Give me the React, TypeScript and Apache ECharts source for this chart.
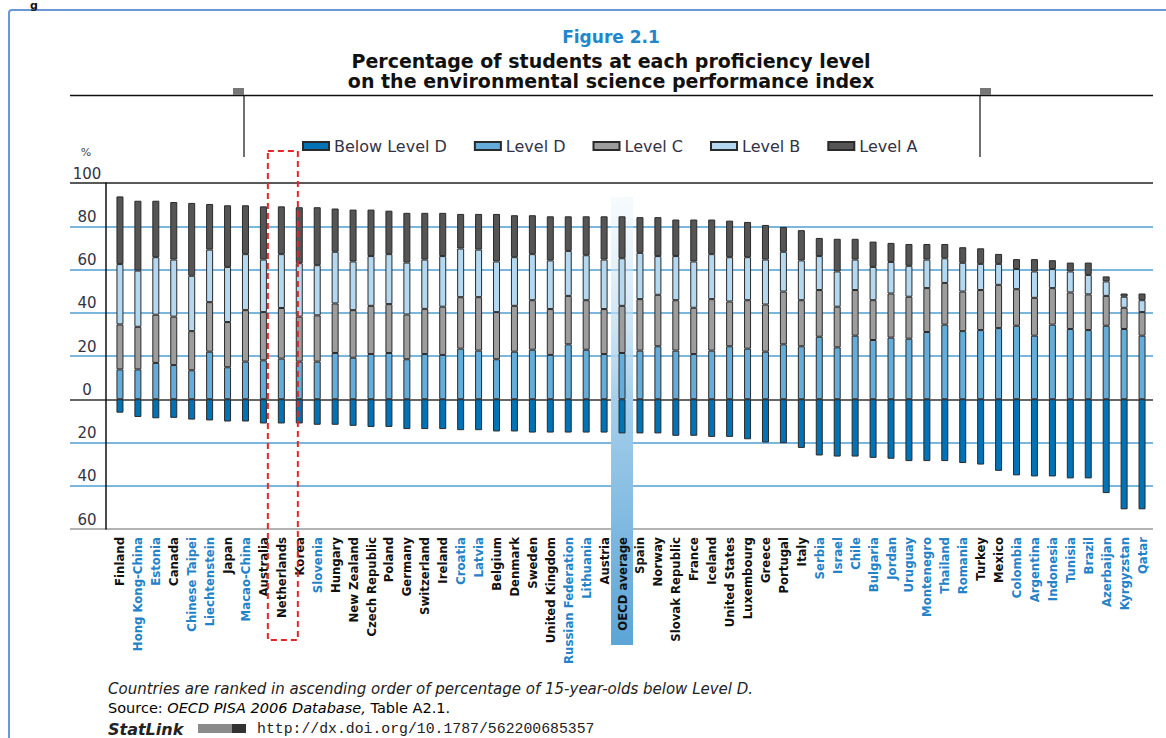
import React, { useEffect, useRef } from "react";
import * as echarts from "echarts";

const countries = [
  "Finland", "Hong Kong-China", "Estonia", "Canada", "Chinese Taipei", "Liechtenstein", "Japan", "Macao-China",
  "Australia", "Netherlands", "Korea", "Slovenia", "Hungary", "New Zealand", "Czech Republic", "Poland",
  "Germany", "Switzerland", "Ireland", "Croatia", "Latvia", "Belgium", "Denmark", "Sweden",
  "United Kingdom", "Russian Federation", "Lithuania", "Austria", "OECD average", "Spain", "Norway", "Slovak Republic",
  "France", "Iceland", "United States", "Luxembourg", "Greece", "Portugal", "Italy", "Serbia",
  "Israel", "Chile", "Bulgaria", "Jordan", "Uruguay", "Montenegro", "Thailand", "Romania",
  "Turkey", "Mexico", "Colombia", "Argentina", "Indonesia", "Tunisia", "Brazil", "Azerbaijan",
  "Kyrgyzstan", "Qatar",
];

const partnerCountries = [
  "Hong Kong-China", "Estonia", "Chinese Taipei", "Liechtenstein", "Macao-China", "Slovenia", "Croatia", "Latvia",
  "Russian Federation", "Lithuania", "Serbia", "Israel", "Chile", "Bulgaria", "Jordan", "Uruguay", "Montenegro",
  "Thailand", "Romania", "Colombia", "Argentina", "Indonesia", "Tunisia", "Brazil", "Azerbaijan", "Kyrgyzstan", "Qatar",
];

const belowLevelD = [
  -6.2, -8.2, -8.8, -8.6, -9.4, -9.8, -10.3, -10.3,
  -11.2, -11.2, -11.2, -11.8, -11.8, -12.3, -12.8, -12.8,
  -13.8, -13.8, -13.8, -14.3, -14.3, -14.9, -14.9, -15.4,
  -15.4, -15.4, -15.4, -15.4, -15.8, -15.8, -15.8, -16.9,
  -16.9, -17.4, -17.4, -18.5, -20.0, -20.3, -22.5, -26.0,
  -26.5, -26.5, -27.1, -27.5, -28.6, -28.6, -28.6, -29.5,
  -30.2, -33.1, -35.2, -35.7, -35.7, -36.6, -36.6, -43.4,
  -50.9, -50.9,
];

const levelD = [
  13.8, 13.8, 16.8, 15.8, 13.4, 22.0, 14.8, 17.4,
  18.0, 18.8, 17.4, 17.4, 21.4, 19.2, 20.9, 21.4,
  18.5, 20.9, 20.5, 23.4, 22.5, 18.5, 22.0, 22.9,
  20.5, 25.4, 22.9, 20.9, 21.4, 22.5, 24.5, 22.5,
  20.9, 22.5, 24.5, 23.4, 22.0, 25.4, 24.5, 28.9,
  24.0, 29.4, 27.4, 28.5, 28.0, 31.1, 34.5, 31.5,
  32.0, 32.9, 34.0, 29.4, 34.5, 32.5, 32.0, 34.0,
  32.5, 29.4,
];

const levelC = [
  20.8, 19.7, 22.3, 22.4, 18.1, 22.9, 20.9, 23.8,
  22.3, 23.4, 20.8, 21.4, 22.9, 22.0, 22.3, 22.6,
  20.7, 20.9, 22.3, 23.8, 24.7, 21.8, 21.2, 22.9,
  21.2, 22.4, 22.9, 20.8, 21.8, 23.8, 23.8, 23.3,
  21.4, 23.8, 20.7, 22.4, 21.8, 24.4, 21.3, 21.6,
  18.8, 21.1, 18.4, 20.4, 19.4, 20.3, 19.3, 18.3,
  18.5, 20.0, 16.9, 17.5, 16.9, 16.9, 16.5, 13.8,
  9.8, 10.9,
];

const levelB = [
  27.9, 26.0, 26.6, 26.4, 25.6, 24.3, 25.5, 25.9,
  24.3, 24.9, 24.7, 23.2, 23.9, 22.5, 23.0, 23.1,
  24.0, 22.8, 23.4, 22.5, 22.0, 23.4, 22.5, 21.3,
  22.5, 20.8, 20.8, 22.9, 22.0, 21.4, 17.9, 20.4,
  21.4, 20.8, 20.5, 19.9, 20.8, 18.4, 18.4, 15.7,
  16.3, 14.1, 15.4, 14.6, 14.3, 13.2, 11.4, 13.3,
  12.1, 9.7, 9.3, 12.2, 8.8, 9.7, 9.0, 6.7,
  5.1, 5.5,
];

const levelA = [
  31.3, 32.3, 26.1, 26.6, 33.7, 21.1, 28.5, 22.6,
  24.6, 22.1, 25.9, 26.8, 20.0, 24.0, 21.5, 20.1,
  23.0, 21.6, 20.0, 16.0, 16.5, 22.0, 19.4, 18.0,
  20.4, 16.0, 18.0, 20.0, 19.4, 16.5, 18.0, 16.9,
  19.4, 16.0, 16.9, 16.3, 16.0, 11.5, 14.0, 8.4,
  15.1, 9.6, 11.7, 8.8, 10.1, 7.2, 6.6, 7.2,
  7.2, 4.6, 4.6, 5.7, 4.1, 4.1, 5.7, 2.3,
  1.5, 3.1,
];

const seriesNames = ["Below Level D", "Level D", "Level C", "Level B", "Level A"];
const seriesColors = ["#0072b6", "#64acd9", "#9d9d9d", "#b4d8ef", "#555555"];
const yTicks = [-60, -40, -20, 0, 20, 40, 60, 80, 100];

const highlightCategory = "OECD average";
const boxedCategory = "Netherlands";

const App: React.FC = () => {
  const ref = useRef<HTMLDivElement>(null);

  useEffect(() => {
    if (!ref.current) return;
    const chart = echarts.init(ref.current, null, { renderer: "svg" });
    const values = [belowLevelD, levelD, levelC, levelB, levelA];
    const gridLineColors = yTicks.map((t) =>
      t === 100 ? "#222222" : t === 0 ? "#333333" : t === -60 ? "#9a9a9a" : "#4f9fd2"
    );

    const option: any = {
      animation: false,
      backgroundColor: "#ffffff",
      grid: [
        { left: 70, right: 13, top: 183, bottom: 209 },
        { left: 111, right: 15, top: 183, bottom: 209 },
      ],
      legend: {
        data: seriesNames,
        left: 297,
        top: 133,
        itemWidth: 26,
        itemHeight: 8,
        itemGap: 27,
        icon: "rect",
        textStyle: { fontSize: 16, fontFamily: "DejaVu Sans", color: "#333344" },
      },
      xAxis: [
        {
          type: "category",
          gridIndex: 1,
          data: countries,
          axisLine: { show: false },
          axisTick: { show: false },
          splitLine: { show: false },
          axisLabel: {
            interval: 0,
            rotate: 90,
            margin: 8,
            fontSize: 13,
            fontWeight: "bold",
            fontFamily: "'Liberation Sans Narrow', 'DejaVu Sans Condensed', sans-serif",
            color: (v: string) => (partnerCountries.includes(v) ? "#2383c8" : "#111111"),
          },
        },
        { type: "value", gridIndex: 0, show: false, min: 0, max: 1 },
      ],
      yAxis: [
        {
          type: "value",
          gridIndex: 0,
          min: -60,
          max: 100,
          interval: 20,
          axisLine: { show: false },
          axisTick: { show: false },
          splitLine: { show: true, lineStyle: { color: gridLineColors, width: 1.5 } },
          axisLabel: {
            inside: true,
            margin: 17,
            align: "center",
            verticalAlign: "bottom",
            padding: [0, 0, 2, 0],
            fontSize: 15,
            fontFamily: "DejaVu Sans",
            color: "#333344",
            formatter: (v: number) => String(Math.abs(v)),
          },
        },
        {
          type: "value",
          gridIndex: 1,
          min: -60,
          max: 100,
          interval: 20,
          offset: 5,
          axisLine: { show: true, lineStyle: { color: "#111111", width: 1.5 } },
          axisTick: { show: false },
          axisLabel: { show: false },
          splitLine: { show: false },
        },
      ],
      series: seriesNames.map((name, i) => ({
        name,
        type: "bar",
        stack: "total",
        xAxisIndex: 0,
        yAxisIndex: 1,
        barWidth: 7,
        itemStyle: { color: seriesColors[i], borderColor: "#2a2a2a", borderWidth: 1 },
        data: values[i],
      })),
    };
    chart.setOption(option);

    const xO = chart.convertToPixel({ xAxisIndex: 0 }, highlightCategory) as number;
    const xN = chart.convertToPixel({ xAxisIndex: 0 }, boxedCategory) as number;

    const elements: any[] = [
      {
        type: "rect",
        z: 0,
        shape: { x: xO - 11, y: 197, width: 22, height: 448 },
        style: {
          fill: new echarts.graphic.LinearGradient(0, 0, 0, 1, [
            { offset: 0, color: "rgba(226,240,250,0.3)" },
            { offset: 0.45, color: "#a6cfeb" },
            { offset: 1, color: "#5ca5d6" },
          ]),
        },
      },
      {
        type: "rect",
        z: 10,
        shape: { x: xN - 13.5, y: 151, width: 30, height: 489 },
        style: { fill: "none", stroke: "#e52626", lineWidth: 2, lineDash: [6, 4] },
      },
      {
        type: "rect",
        z: 5,
        shape: { x: 9, y: 10, width: 1220, height: 800, r: 3 },
        style: { fill: "none", stroke: "#6b97d6", lineWidth: 2 },
      },
      {
        type: "text",
        z: 5,
        x: 30,
        y: 0,
        style: { text: "g", font: "bold 11px 'DejaVu Sans'", fill: "#111", textVerticalAlign: "top" },
      },
      {
        type: "text",
        z: 5,
        x: 611,
        y: 37,
        style: {
          text: "Figure 2.1",
          font: "bold 17px 'DejaVu Sans'",
          fill: "#2286cc",
          textAlign: "center",
          textVerticalAlign: "middle",
        },
      },
      {
        type: "text",
        z: 5,
        x: 611,
        y: 60.5,
        style: {
          text: "Percentage of students at each proficiency level",
          font: "bold 19px 'DejaVu Sans'",
          fill: "#111",
          textAlign: "center",
          textVerticalAlign: "middle",
        },
      },
      {
        type: "text",
        z: 5,
        x: 611,
        y: 80.5,
        style: {
          text: "on the environmental science performance index",
          font: "bold 19px 'DejaVu Sans'",
          fill: "#111",
          textAlign: "center",
          textVerticalAlign: "middle",
        },
      },
      { type: "line", z: 5, shape: { x1: 70, y1: 95.5, x2: 1153, y2: 95.5 }, style: { stroke: "#111", lineWidth: 1.5 } },
      { type: "line", z: 5, shape: { x1: 244, y1: 95, x2: 244, y2: 157 }, style: { stroke: "#111", lineWidth: 1.2 } },
      { type: "line", z: 5, shape: { x1: 980, y1: 95, x2: 980, y2: 157 }, style: { stroke: "#111", lineWidth: 1.2 } },
      { type: "rect", z: 5, shape: { x: 233, y: 88, width: 11, height: 7 }, style: { fill: "#777" } },
      { type: "rect", z: 5, shape: { x: 980, y: 88, width: 11, height: 7 }, style: { fill: "#777" } },
      {
        type: "text",
        z: 5,
        x: 86,
        y: 152,
        style: { text: "%", font: "11px 'DejaVu Sans'", fill: "#444", textAlign: "center", textVerticalAlign: "middle" },
      },
      {
        type: "text",
        z: 5,
        x: 108,
        y: 689,
        style: {
          text: "Countries are ranked in ascending order of percentage of 15-year-olds below Level D.",
          font: "italic 15px 'DejaVu Sans'",
          fill: "#222",
          textVerticalAlign: "middle",
        },
      },
      {
        type: "text",
        z: 5,
        x: 108,
        y: 708,
        style: {
          text: "{n|Source: }{i|OECD PISA 2006 Database,}{n| Table A2.1.}",
          textVerticalAlign: "middle",
          rich: {
            n: { fontSize: 14.5, fontFamily: "DejaVu Sans", color: "#222" },
            i: { fontSize: 14.5, fontFamily: "DejaVu Sans", fontStyle: "italic", color: "#222" },
          },
        },
      },
      {
        type: "text",
        z: 5,
        x: 108,
        y: 729,
        style: {
          text: "StatLink",
          font: "italic bold 16px 'DejaVu Sans'",
          fill: "#222",
          textVerticalAlign: "middle",
        },
      },
      { type: "rect", z: 5, shape: { x: 198, y: 724, width: 34, height: 9 }, style: { fill: "#8a8a8a" } },
      { type: "rect", z: 5, shape: { x: 232, y: 724, width: 14, height: 9 }, style: { fill: "#333" } },
      {
        type: "text",
        z: 5,
        x: 257,
        y: 729,
        style: {
          text: "http://dx.doi.org/10.1787/562200685357",
          font: "14.8px 'Liberation Mono'",
          fill: "#222",
          textVerticalAlign: "middle",
        },
      },
    ];
    chart.setOption({ graphic: { elements } });

    return () => chart.dispose();
  }, []);

  return (
    <div
      ref={ref}
      style={{ position: "fixed", left: 0, top: 0, width: 1166, height: 738, background: "#fff" }}
    />
  );
};

export default App;
